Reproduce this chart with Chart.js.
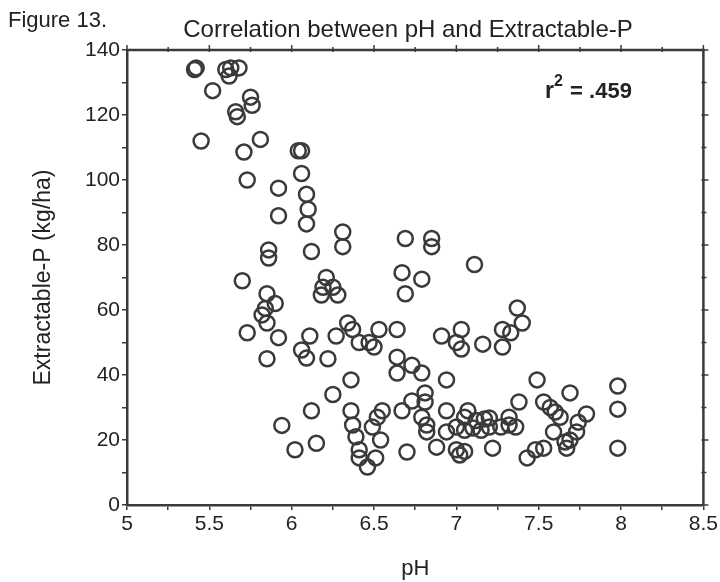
<!DOCTYPE html>
<html>
<head>
<meta charset="utf-8">
<script src="https://cdn.jsdelivr.net/npm/chart.js@4.4.1/dist/chart.umd.min.js"></script>
<style>
  body { margin: 0; background: #fff; }
  #wrap { width: 720px; height: 582px; }
</style>
</head>
<body>
<div id="wrap"><canvas id="phcanvas" width="720" height="582"></canvas></div>
<script>
// pH and Extractable-P (kg/ha)
var phValues = [
	5.41, 5.42, 5.60, 5.63, 5.68, 5.62, 5.52, 5.75, 5.76, 5.66,
	5.67, 5.45, 5.81, 5.71, 6.04, 6.06, 6.06, 5.73, 5.92, 6.09,
	6.10, 5.92, 6.09, 6.31, 6.31, 5.86, 5.86, 6.12, 6.69, 6.85,
	6.85, 7.11, 6.67, 6.79, 6.69, 5.70, 6.21, 6.19, 6.25, 6.18,
	6.28, 5.85, 5.90, 5.84, 5.82, 5.85, 5.73, 5.92, 6.11, 6.27,
	6.34, 6.37, 6.53, 6.64, 6.41, 6.47, 6.50, 6.91, 7.03, 7.00,
	7.03, 7.37, 7.40, 7.28, 7.33, 7.16, 7.28, 6.06, 6.09, 6.22,
	5.85, 6.64, 6.73, 6.79, 6.64, 6.94, 6.36, 6.25, 6.12, 5.94,
	6.36, 6.37, 6.39, 6.52, 6.55, 6.49, 6.54, 6.41, 6.41, 6.46,
	6.51, 6.02, 6.15, 6.70, 6.67, 6.73, 6.81, 6.81, 6.79, 6.82,
	6.82, 6.88, 6.94, 7.07, 6.94, 7.00, 7.05, 7.10, 7.15, 7.20,
	7.00, 7.02, 7.05, 7.20, 7.22, 7.49, 7.38, 7.53, 7.57, 7.60,
	7.63, 7.32, 7.59, 7.43, 7.48, 7.53, 7.69, 7.98, 7.98, 7.98,
	7.79, 7.74, 7.73, 7.66, 7.69, 7.67, 7.32, 7.27, 7.12, 7.17,
	7.05, 7.36
];
var pValues = [
	134, 134.5, 134, 134.5, 134.5, 132, 127.5, 125.5, 123, 121,
	119.5, 112, 112.5, 108.6, 109, 109, 102, 100, 97.5, 95.6,
	91, 89, 86.5, 84, 79.5, 78.5, 76, 78, 82, 82,
	79.5, 74, 71.5, 69.5, 65, 69, 70, 67, 67, 64.6,
	64.6, 65, 62, 60.5, 58.5, 56, 53, 51.5, 52, 52,
	56, 54, 54, 54, 50, 50, 48.6, 52, 54, 50,
	48, 60.6, 56, 54, 53, 49.5, 48.6, 47.7, 45.2, 45,
	45, 45.5, 43, 40.6, 40.6, 38.5, 38.5, 34, 29, 24.5,
	29, 24.6, 21, 27, 29, 24, 20, 17, 14.5, 11.7,
	14.5, 17, 19, 16.3, 29, 32, 34.5, 31.7, 27, 24.6,
	22.5, 17.8, 29, 29, 22.5, 24, 23, 23.7, 23, 24,
	17, 15.4, 16.5, 26.8, 17.5, 38.5, 31.7, 31.7, 30, 28.6,
	27, 27, 22.5, 14.5, 17, 17.5, 34.5, 36.6, 29.5, 17.5,
	28, 25.5, 22.5, 19.4, 20, 17.5, 24.6, 24, 26, 26.5,
	27, 24
];
var xMin = 5, xMax = 8.5, yMin = 0, yMax = 140;
var rSquared = '.459';
var chartTitle = 'Correlation between pH and Extractable-P';
var figureLabel = 'Figure 13.';

var points = [];
for (var i = 0; i < phValues.length; i++) {
	points.push({ x: phValues[i], y: pValues[i] });
}

var ink = '#3a3a3a';
var fontFamily = '"Liberation Sans", Arial, Helvetica, sans-serif';

// top/right frame, its ticks, and the header texts
var framePlugin = {
	id: 'frame',
	afterDraw: function(chart) {
		var ctx = chart.ctx;
		var a = chart.chartArea;
		var xs = chart.scales.x, ys = chart.scales.y;
		ctx.save();
		ctx.strokeStyle = ink;
		ctx.lineWidth = 2.5;
		ctx.beginPath();
		ctx.moveTo(a.left, a.top);
		ctx.lineTo(a.right, a.top);
		ctx.lineTo(a.right, a.bottom);
		ctx.stroke();
		ctx.lineWidth = 1.5;
		xs.ticks.forEach(function(t) {
			var px = xs.getPixelForValue(t.value);
			var len = (Math.round(t.value * 2) === t.value * 2) ? 5 : 3;
			ctx.beginPath();
			ctx.moveTo(px, a.top - len);
			ctx.lineTo(px, a.top + 2);
			ctx.stroke();
		});
		ys.ticks.forEach(function(t) {
			var py = ys.getPixelForValue(t.value);
			var len = (t.value % 20 === 0) ? 5 : 3;
			ctx.beginPath();
			ctx.moveTo(a.right - 2, py);
			ctx.lineTo(a.right + len, py);
			ctx.stroke();
		});

		ctx.fillStyle = '#222';
		ctx.textBaseline = 'alphabetic';
		ctx.font = '22px ' + fontFamily;
		ctx.textAlign = 'left';
		ctx.fillText(figureLabel, 8, 27);
		ctx.font = '24px ' + fontFamily;
		ctx.textAlign = 'center';
		ctx.fillText(chartTitle, 408, 37);

		// r^2 annotation
		ctx.textAlign = 'left';
		ctx.font = 'bold 23px ' + fontFamily;
		ctx.fillText('r', 545, 98);
		ctx.font = 'bold 16px ' + fontFamily;
		ctx.fillText('2', 554, 86);
		ctx.font = 'bold 22px ' + fontFamily;
		ctx.fillText(' = ' + rSquared, 564, 98);
		ctx.restore();
	}
};

var ctx = document.getElementById('phcanvas').getContext('2d');
window.phChart = new Chart(ctx, {
	type: 'scatter',
	data: {
		datasets: [
			{
				label: 'Extractable-P',
				data: points,
				pointStyle: 'circle',
				pointRadius: 7.5,
				pointHoverRadius: 7.5,
				pointBorderWidth: 2.5,
				pointBorderColor: ink,
				pointBackgroundColor: 'rgba(0,0,0,0)'
			}
		]
	},
	options: {
		responsive: false,
		animation: false,
		layout: {
			padding: { left: 30, top: 50, right: 15, bottom: 0 }
		},
		plugins: {
			legend: { display: false },
			title: { display: false },
			tooltip: { enabled: false }
		},
		scales: {
			x: {
				type: 'linear',
				min: xMin,
				max: xMax,
				afterFit: function(scale) { scale.height = 77; },
				border: { display: true, color: ink, width: 2.5 },
				grid: {
					drawOnChartArea: false,
					drawTicks: true,
					tickLength: 5,
					color: ink,
					lineWidth: 1.5
				},
				ticks: {
					stepSize: 0.25,
					autoSkip: false,
					maxRotation: 0,
					padding: 2,
					color: '#222',
					font: { family: fontFamily, size: 21 },
					callback: function(v) {
						return (Math.round(v * 2) === v * 2) ? String(v) : '';
					}
				},
				title: {
					display: true,
					text: 'pH',
					color: '#222',
					font: { family: fontFamily, size: 22 },
					padding: { top: 6, bottom: 0 }
				}
			},
			y: {
				type: 'linear',
				min: yMin,
				max: yMax,
				afterFit: function(scale) { scale.width = 97; },
				border: { display: true, color: ink, width: 2.5 },
				grid: {
					drawOnChartArea: false,
					drawTicks: true,
					tickLength: 5,
					color: ink,
					lineWidth: 1.5
				},
				ticks: {
					stepSize: 10,
					autoSkip: false,
					padding: 2,
					color: '#222',
					font: { family: fontFamily, size: 21 },
					callback: function(v) {
						return (v % 20 === 0) ? String(v) : '';
					}
				},
				title: {
					display: true,
					text: 'Extractable-P (kg/ha)',
					color: '#222',
					font: { family: fontFamily, size: 23 },
					padding: { top: 0, bottom: 10 }
				}
			}
		}
	},
	plugins: [framePlugin]
});
</script>
</body>
</html>
